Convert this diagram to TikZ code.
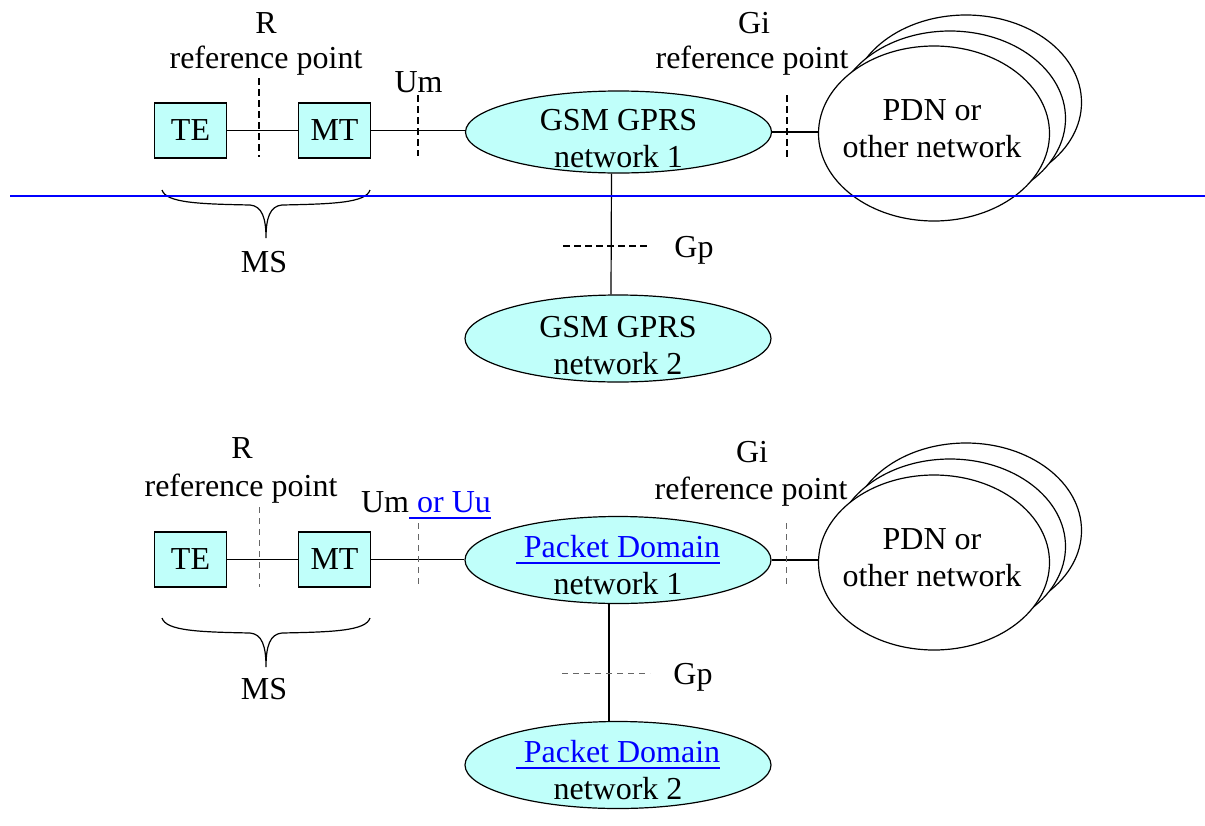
\documentclass[tikz,border=0pt]{standalone}
\usepackage{fontspec}
\setmainfont{Liberation Serif}
\usepackage{tikz}
\usetikzlibrary{shapes.geometric}
\definecolor{netcyan}{RGB}{192,255,250}
\newcommand{\linkul}[1]{\textcolor{blue}{\setbox0\hbox{#1}\rlap{\rule[-3.2pt]{\wd0}{0.8pt}}\box0}}

\begin{document}
\begin{tikzpicture}[x=0.5pt, y=-0.5pt, font=\fontsize{16}{18.5}\selectfont]
    \tikzstyle{unit} = [rectangle, draw, fill=netcyan, line width=0.6pt, minimum width=36pt, minimum height=27.5pt, inner sep=0pt]
    \tikzstyle{net} = [ellipse, draw, fill=netcyan, line width=0.6pt, minimum width=153pt, minimum height=43.5pt, inner sep=0pt]
    \tikzstyle{pdn} = [ellipse, draw, fill=white, line width=0.6pt, minimum width=115.5pt, minimum height=87.5pt, inner sep=0pt]
    \tikzstyle{txt} = [align=center, inner sep=0pt]
    \tikzstyle{link} = [line width=0.6pt]
    \tikzstyle{refmark} = [line width=1pt, dash pattern=on 3.5pt off 2pt]
    \tikzstyle{refmarkthin} = [gray!80!black, line width=0.5pt, dash pattern=on 3pt off 2.5pt]

    \useasboundingbox (0,0) rectangle (1205,825);

    % GSM GPRS (upper)
    \node[unit] (te1) at (190.5,130.5) {TE};
    \node[unit] (mt1) at (334.5,130.5) {MT};
    \node[net, minimum height=41pt] (gsm1) at (618.5,132) {};
    \node[txt] (gsm1txt) at (618.5,139) {GSM GPRS\\network 1};
    \node[net] (gsm2) at (618,338.5) {};
    \node[txt] (gsm2txt) at (618,346) {GSM GPRS\\network 2};

    \node[pdn] (pdn1c) at (966,102.5) {};
    \node[pdn] (pdn1b) at (950,118.5) {};
    \node[pdn] (pdn1) at (934,133.5) {};
    \node[txt] (pdn1txt) at (932,129) {PDN or\\other network};

    \draw[link] (te1) -- (mt1);
    \draw[link] (mt1.east) -- (mt1.east -| gsm1.west);
    \draw[link] (gsm1.east) -- (gsm1.east -| pdn1.west);
    \draw[link] ([xshift=-3.5pt]gsm1.south) -- ([xshift=-3.5pt]gsm2.north);

    \draw[refmark] (259,78) -- (259,157);
    \draw[refmark] (418,95) -- (418,156);
    \draw[refmark] (787,95) -- (787,157);
    \draw[refmark] (563,246) -- (650,246);

    \node[txt] (r1) at (266,23) {R};
    \node[txt] (r1ref) at (266,61) {reference point};
    \node[txt] (um1) at (418.5,82) {Um};
    \node[txt] (gi1) at (754,23) {Gi};
    \node[txt] (gi1ref) at (752,61) {reference point};
    \node[txt] (gp1) at (694,250) {Gp};
    \node[txt] (ms1) at (264,262.5) {MS};

    \draw[link] (162,190) .. controls (166,203) and (200,204) .. (250,205)
        .. controls (262,206) and (266,218) .. (266,238)
        .. controls (266,218) and (270,206) .. (282,205)
        .. controls (332,204) and (366,203) .. (370,190);

    % Packet Domain (lower)
    \node[unit] (te2) at (190.5,559.5) {TE};
    \node[unit] (mt2) at (334.5,559.5) {MT};
    \node[net] (pd1) at (618,560) {};
    \node[txt] (pd1txt) at (618,565) {\linkul{\ Packet Domain}\\network 1};
    \node[net] (pd2) at (618,765) {};
    \node[txt] (pd2txt) at (618,770) {\linkul{\ Packet Domain}\\network 2};

    \node[pdn] (pdn2c) at (966,530.5) {};
    \node[pdn] (pdn2b) at (950,546.5) {};
    \node[pdn] (pdn2) at (934,562.5) {};
    \node[txt] (pdn2txt) at (932,557.5) {PDN or\\other network};

    \draw[link] (te2) -- (mt2);
    \draw[link] (mt2.east) -- (mt2.east -| pd1.west);
    \draw[link] (pd1.east) -- (pd1.east -| pdn2.west);
    \draw[link] ([xshift=-4.5pt]pd1.south) -- ([xshift=-4.5pt]pd2.north);

    \draw[refmarkthin] (259,507) -- (259,587);
    \draw[refmarkthin] (418,523) -- (418,587);
    \draw[refmarkthin] (786,523) -- (786,587);
    \draw[refmarkthin] (562,673) -- (650,673);

    \node[txt] (r2) at (242,448) {R};
    \node[txt] (r2ref) at (241,489) {reference point};
    \node[txt] (um2) at (426,505) {Um\linkul{\ or Uu}};
    \node[txt] (gi2) at (752,452.5) {Gi};
    \node[txt] (gi2ref) at (751,491.5) {reference point};
    \node[txt] (gp2) at (693,677) {Gp};
    \node[txt] (ms2) at (264,689) {MS};

    \draw[link] (162,618) .. controls (166,631) and (200,632) .. (250,633)
        .. controls (262,634) and (266,646) .. (266,667)
        .. controls (266,646) and (270,634) .. (282,633)
        .. controls (332,632) and (366,631) .. (370,618);

    % Divider
    \draw[blue, line width=1pt] (10,196) -- (1205,196);
\end{tikzpicture}
\end{document}
